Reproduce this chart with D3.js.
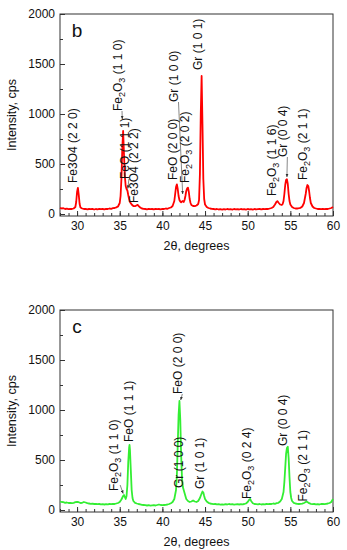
<!DOCTYPE html>
<html>
<head>
<meta charset="utf-8">
<script src="https://cdn.jsdelivr.net/npm/d3@7"></script>
<style>
  body { margin: 0; background: #fff; }
  text { font-family: "Liberation Sans", Arial, sans-serif; fill: #111; }
</style>
</head>
<body>
<div id="xrd"></div>
<script>
// XRD patterns: [2theta (deg), intensity (cps)]
var patternB = [
  [28.0, 62], [28.2, 55], [28.4, 58], [28.6, 50], [28.8, 54], [29.0, 48], [29.2, 52], [29.4, 50],
  [29.6, 55], [29.8, 70], [29.9, 120], [30.0, 220], [30.1, 262], [30.2, 190], [30.3, 100], [30.4, 65],
  [30.6, 55], [30.8, 50], [31.0, 52], [31.2, 46], [31.4, 50], [31.6, 48], [31.8, 52], [32.0, 45],
  [32.2, 50], [32.4, 47], [32.6, 52], [32.8, 48], [33.0, 50], [33.2, 46], [33.4, 52], [33.6, 50],
  [33.8, 55], [34.0, 52], [34.2, 58], [34.4, 60], [34.6, 66], [34.8, 75], [35.0, 110], [35.1, 180],
  [35.2, 350], [35.3, 650], [35.4, 830], [35.5, 600], [35.6, 380], [35.7, 280], [35.8, 250], [35.9, 235],
  [36.0, 190], [36.1, 150], [36.2, 120], [36.4, 95], [36.6, 80], [36.8, 78], [37.0, 88], [37.1, 92],
  [37.2, 82], [37.4, 65], [37.6, 55], [37.8, 52], [38.0, 50], [38.2, 47], [38.4, 52], [38.6, 48],
  [38.8, 50], [39.0, 46], [39.2, 52], [39.4, 48], [39.6, 50], [39.8, 47], [40.0, 52], [40.2, 50],
  [40.4, 55], [40.6, 52], [40.8, 60], [41.0, 65], [41.2, 80], [41.4, 130], [41.5, 200], [41.6, 270],
  [41.7, 297], [41.8, 250], [41.9, 180], [42.0, 140], [42.1, 125], [42.2, 118], [42.3, 125], [42.4, 130],
  [42.5, 120], [42.6, 140], [42.7, 180], [42.8, 230], [42.9, 255], [43.0, 263], [43.1, 220], [43.2, 150],
  [43.3, 110], [43.4, 90], [43.6, 80], [43.8, 78], [44.0, 85], [44.2, 100], [44.3, 140], [44.4, 400],
  [44.5, 1000], [44.6, 1380], [44.7, 900], [44.8, 350], [44.9, 150], [45.0, 95], [45.2, 70], [45.4, 60],
  [45.6, 55], [45.8, 52], [46.0, 50], [46.2, 46], [46.4, 50], [46.6, 45], [46.8, 48], [47.0, 44],
  [47.2, 48], [47.4, 45], [47.6, 50], [47.8, 46], [48.0, 48], [48.2, 44], [48.4, 50], [48.6, 46],
  [48.8, 48], [49.0, 45], [49.2, 50], [49.4, 46], [49.6, 48], [49.8, 44], [50.0, 50], [50.2, 46],
  [50.4, 48], [50.6, 44], [50.8, 50], [51.0, 46], [51.2, 48], [51.4, 50], [51.6, 46], [51.8, 50],
  [52.0, 48], [52.2, 52], [52.4, 50], [52.6, 55], [52.8, 60], [53.0, 70], [53.2, 95], [53.4, 125],
  [53.5, 128], [53.6, 115], [53.8, 95], [54.0, 90], [54.1, 100], [54.2, 130], [54.3, 200], [54.4, 290],
  [54.5, 340], [54.6, 347], [54.7, 300], [54.8, 200], [54.9, 130], [55.0, 95], [55.2, 70], [55.4, 60],
  [55.6, 55], [55.8, 55], [56.0, 58], [56.2, 62], [56.4, 75], [56.6, 110], [56.8, 200], [56.9, 260],
  [57.0, 290], [57.1, 280], [57.2, 230], [57.3, 160], [57.4, 110], [57.6, 75], [57.8, 60], [58.0, 55],
  [58.2, 50], [58.4, 52], [58.6, 48], [58.8, 50], [59.0, 48], [59.2, 52], [59.4, 50], [59.6, 55],
  [59.8, 60], [60.0, 70]
];

var patternC = [
  [28.0, 85], [28.2, 80], [28.4, 78], [28.6, 72], [28.8, 75], [29.0, 70], [29.2, 72], [29.4, 68],
  [29.6, 72], [29.8, 78], [30.0, 82], [30.2, 78], [30.4, 70], [30.6, 72], [30.8, 80], [31.0, 75],
  [31.2, 68], [31.4, 65], [31.6, 62], [31.8, 64], [32.0, 60], [32.2, 62], [32.4, 58], [32.6, 60],
  [32.8, 56], [33.0, 58], [33.2, 55], [33.4, 58], [33.6, 56], [33.8, 60], [34.0, 58], [34.2, 62],
  [34.4, 60], [34.6, 65], [34.8, 70], [35.0, 80], [35.2, 105], [35.4, 140], [35.5, 150], [35.6, 130],
  [35.7, 110], [35.8, 140], [35.9, 250], [36.0, 480], [36.1, 620], [36.15, 650], [36.2, 600], [36.3, 400],
  [36.4, 200], [36.5, 120], [36.6, 90], [36.8, 72], [37.0, 65], [37.2, 60], [37.4, 56], [37.6, 52],
  [37.8, 50], [38.0, 48], [38.2, 45], [38.4, 48], [38.6, 44], [38.8, 46], [39.0, 48], [39.2, 45],
  [39.4, 50], [39.6, 55], [39.8, 50], [40.0, 48], [40.2, 50], [40.4, 52], [40.6, 55], [40.8, 60],
  [41.0, 68], [41.2, 80], [41.4, 110], [41.6, 200], [41.7, 350], [41.8, 650], [41.9, 950], [42.0, 1090],
  [42.1, 900], [42.2, 550], [42.3, 320], [42.4, 230], [42.5, 200], [42.6, 170], [42.7, 140], [42.8, 110],
  [43.0, 90], [43.2, 80], [43.4, 85], [43.6, 95], [43.8, 85], [44.0, 80], [44.2, 90], [44.4, 120],
  [44.6, 165], [44.7, 185], [44.8, 175], [44.9, 140], [45.0, 110], [45.2, 85], [45.4, 72], [45.6, 65],
  [45.8, 62], [46.0, 58], [46.2, 60], [46.4, 56], [46.6, 58], [46.8, 54], [47.0, 56], [47.2, 53],
  [47.4, 58], [47.6, 55], [47.8, 60], [48.0, 56], [48.2, 58], [48.4, 54], [48.6, 56], [48.8, 58],
  [49.0, 55], [49.2, 58], [49.4, 56], [49.6, 60], [49.8, 65], [50.0, 80], [50.2, 105], [50.3, 110],
  [50.4, 90], [50.6, 68], [50.8, 60], [51.0, 58], [51.2, 56], [51.4, 60], [51.6, 55], [51.8, 58],
  [52.0, 56], [52.2, 60], [52.4, 58], [52.6, 62], [52.8, 60], [53.0, 65], [53.2, 62], [53.4, 68],
  [53.6, 72], [53.8, 85], [54.0, 110], [54.2, 180], [54.3, 280], [54.4, 420], [54.5, 560], [54.6, 620],
  [54.7, 633], [54.8, 520], [54.9, 330], [55.0, 180], [55.1, 120], [55.2, 90], [55.4, 72], [55.6, 65],
  [55.8, 62], [56.0, 60], [56.2, 62], [56.4, 64], [56.6, 70], [56.8, 80], [56.9, 85], [57.0, 80],
  [57.2, 68], [57.4, 62], [57.6, 58], [57.8, 60], [58.0, 56], [58.2, 58], [58.4, 55], [58.6, 60],
  [58.8, 62], [59.0, 58], [59.2, 62], [59.4, 65], [59.6, 70], [59.8, 80], [60.0, 110]
];

// peak labels: "_" marks a subscript; at = 2theta of label, from = cps where text starts
// tip = end of arrow / leader line
var peaksB = [
  {label: "Fe3O4 (2 2 0)", at: 30.0, from: 310},
  {label: "Fe_2O_3 (1 1 0)", at: 35.27, from: 1030, tip: [35.3, 950]},
  {label: "FeO (1 1 1)", at: 36.08, from: 350, tip: [35.95, 255]},
  {label: "Fe3O4 (2 2 2)", at: 37.12, from: 110},
  {label: "FeO (2 0 0)", at: 41.68, from: 340},
  {label: "Gr (1 0 0)", at: 41.89, from: 1120, tip: [42.38, 200]},
  {label: "Fe_2O_3 (2 0 2)", at: 43.12, from: 310},
  {label: "Gr (1 0 1)", at: 44.61, from: 1440},
  {label: "Fe_2O_3 (1 1 6)", at: 53.32, from: 180},
  {label: "Gr (0 0 4)", at: 54.65, from: 570, tip: [54.6, 370]},
  {label: "Fe_2O_3 (2 1 1)", at: 56.92, from: 340}
];

var peaksC = [
  {label: "Fe_2O_3 (1 1 0)", at: 34.83, from: 190, tail: [35.05, 250], tip: [35.4, 165]},
  {label: "FeO (1 1 1)", at: 36.52, from: 680},
  {label: "FeO (2 0 0)", at: 42.34, from: 1160, tip: [42.15, 1100]},
  {label: "Gr (1 0 0)", at: 42.45, from: 220},
  {label: "Gr (1 0 1)", at: 44.92, from: 210},
  {label: "Fe_2O_3 (0 2 4)", at: 50.36, from: 110},
  {label: "Gr (0 0 4)", at: 54.65, from: 640},
  {label: "Fe_2O_3 (2 1 1)", at: 56.92, from: 85}
];

var xTicks = [30, 35, 40, 45, 50, 55, 60];
var yTicks = [0, 500, 1000, 1500, 2000];

var width = 347, height = 550;
var left = 60, right = 333, plotH = 202;

var svg = d3.select("#xrd")
  .append("svg")
    .attr("width", width)
    .attr("height", height);

// arrow head for the leader lines
svg.append("defs").append("marker")
    .attr("id", "arrow")
    .attr("viewBox", "0 0 10 10")
    .attr("refX", 9).attr("refY", 5)
    .attr("markerWidth", 5).attr("markerHeight", 5)
    .attr("orient", "auto")
  .append("path")
    .attr("d", "M0,1L10,5L0,9Z")
    .attr("fill", "#333");

function addLabel(g, s, px, py) {
  var t = g.append("text")
    .attr("transform", "translate(" + px + "," + py + ")rotate(-90)")
    .attr("dy", "0.35em")
    .style("font-size", "12px");
  var parts = s.split(/(_\d)/);
  var shifted = false;
  parts.forEach(function(p) {
    if (p === "") return;
    if (p[0] === "_") {
      t.append("tspan").attr("dy", shifted ? 0 : 3).style("font-size", "9px").text(p[1]);
      shifted = true;
    } else {
      t.append("tspan").attr("dy", shifted ? -3 : 0).text(p);
      shifted = false;
    }
  });
}

function drawPanel(top, data, peaks, color, letter) {
  var g = svg.append("g").attr("transform", "translate(0," + top + ")");

  var x = d3.scaleLinear().domain([28, 60]).range([left, right]);
  var y = d3.scaleLinear().domain([-20, 2000]).range([plotH, 0]);

  // minor ticks every degree, inside
  g.append("g")
    .attr("transform", "translate(0," + plotH + ")")
    .call(d3.axisBottom(x).tickValues(d3.range(28, 61, 1)).tickSize(-3).tickFormat(""))
    .call(function(a) { a.select(".domain").remove(); });

  // X axis
  var xa = g.append("g")
    .attr("transform", "translate(0," + plotH + ")")
    .call(d3.axisBottom(x).tickValues(xTicks).tickSize(-5).tickPadding(5));
  xa.select(".domain").remove();
  xa.selectAll("text").style("font-size", "12px").attr("fill", "#111");

  g.append("g")
    .attr("transform", "translate(" + left + ",0)")
    .call(d3.axisLeft(y).tickValues([250, 750, 1250, 1750]).tickSize(-3).tickFormat(""))
    .call(function(a) { a.select(".domain").remove(); });

  // Y axis
  var ya = g.append("g")
    .attr("transform", "translate(" + left + ",0)")
    .call(d3.axisLeft(y).tickValues(yTicks).tickSize(-5).tickPadding(5).tickFormat(d3.format("d")));
  ya.select(".domain").remove();
  ya.selectAll("text").style("font-size", "12px").attr("fill", "#111");
  g.selectAll(".tick line").attr("stroke", "#333");

  // frame
  g.append("rect")
    .attr("x", left).attr("y", 0)
    .attr("width", right - left).attr("height", plotH)
    .attr("fill", "none")
    .attr("stroke", "#333")
    .attr("stroke-width", 1);

  // pattern
  var line = d3.line()
    .x(function(d) { return x(d[0]); })
    .y(function(d) { return y(d[1]); });
  g.append("path")
    .datum(data)
    .attr("d", line)
    .attr("fill", "none")
    .attr("stroke", color)
    .attr("stroke-width", 1.8)
    .attr("stroke-linejoin", "round");

  // peak labels
  peaks.forEach(function(p) {
    addLabel(g, p.label, x(p.at), y(p.from));
    if (p.tip) {
      var t0 = p.tail || [p.at, p.from];
      g.append("line")
        .attr("x1", x(t0[0])).attr("y1", y(t0[1]))
        .attr("x2", x(p.tip[0])).attr("y2", y(p.tip[1]))
        .attr("stroke", "#555")
        .attr("stroke-width", 0.7)
        .attr("marker-end", "url(#arrow)");
    }
  });

  // panel letter
  g.append("text")
    .attr("x", 77).attr("y", 23)
    .attr("text-anchor", "middle")
    .style("font-size", "19px")
    .text(letter);

  // axis titles
  g.append("text")
    .attr("x", (left + right) / 2)
    .attr("y", plotH + 34)
    .attr("text-anchor", "middle")
    .style("font-size", "12.5px")
    .text("2\u03b8, degrees");

  g.append("text")
    .attr("transform", "rotate(-90)")
    .attr("x", -plotH / 2)
    .attr("y", 16)
    .attr("text-anchor", "middle")
    .style("font-size", "12.5px")
    .text("Intensity, cps");
}

drawPanel(14, patternB, peaksB, "#ff0000", "b");
drawPanel(310, patternC, peaksC, "#33ee33", "c");
</script>
</body>
</html>
